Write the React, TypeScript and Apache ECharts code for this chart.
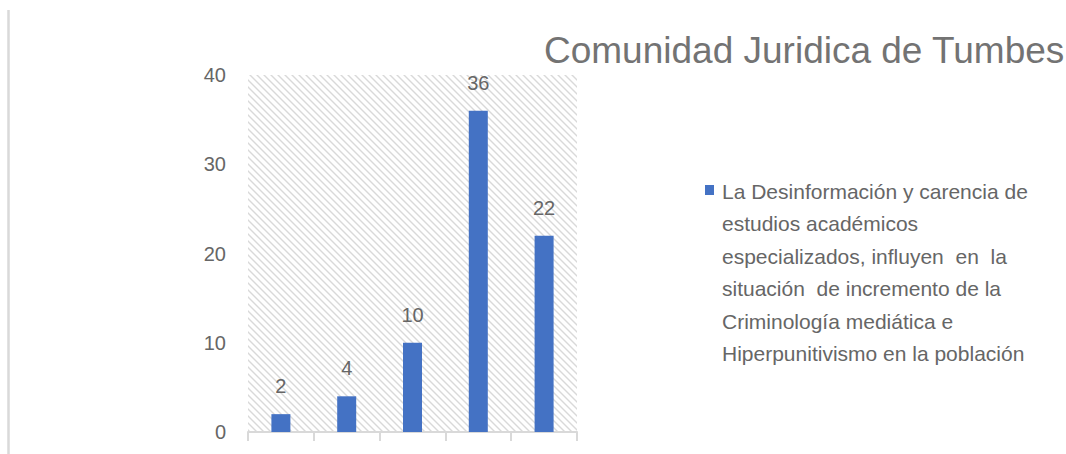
import React, { useEffect, useRef } from "react";
import * as echarts from "echarts";

const TITLE = "Comunidad Juridica de Tumbes";
const CATEGORIES = ["1", "2", "3", "4", "5"];
const VALUES = [2, 4, 10, 36, 22];
const Y_MIN = 0;
const Y_MAX = 40;
const Y_INTERVAL = 10;
const LEGEND_LINES = [
  "La Desinformación y carencia de",
  "estudios académicos",
  "especializados, influyen  en  la",
  "situación  de incremento de la",
  "Criminología mediática e",
  "Hiperpunitivismo en la población",
];
const SERIES_NAME = LEGEND_LINES.join(" ");

const W = 1066;
const H = 454;
const GRID = { left: 248, right: 489, top: 75, bottom: 22 };
const BAR_COLOR = "#4472C4";
const TEXT_COLOR = "#666666";
const FONT = "'Liberation Sans', Arial, sans-serif";
const HATCH = 7;

function makeHatch(): HTMLCanvasElement {
  const P = HATCH;
  const c = document.createElement("canvas");
  c.width = P;
  c.height = P;
  const ctx = c.getContext("2d")!;
  ctx.fillStyle = "#ffffff";
  ctx.fillRect(0, 0, P, P);
  ctx.strokeStyle = "#d9d9d9";
  ctx.lineWidth = 1.4;
  const segs = [
    [-P, -P, 2 * P, 2 * P],
    [0, -P, 2 * P, P],
    [-P, 0, P, 2 * P],
  ];
  for (const [x1, y1, x2, y2] of segs) {
    ctx.beginPath();
    ctx.moveTo(x1, y1);
    ctx.lineTo(x2, y2);
    ctx.stroke();
  }
  return c;
}

export default function App() {
  const ref = useRef<HTMLDivElement>(null);
  useEffect(() => {
    if (!ref.current) return;
    const chart = echarts.init(ref.current, null, { renderer: "svg" });
    const hatch = makeHatch();
    const gridW = W - GRID.left - GRID.right;
    const gridH = H - GRID.top - GRID.bottom;
    chart.setOption({
      animation: false,
      backgroundColor: "#ffffff",
      title: {
        text: TITLE,
        left: 539,
        top: 27,
        textStyle: {
          fontFamily: FONT,
          fontSize: 37,
          fontWeight: "normal",
          color: "#737373",
        },
      },
      grid: { ...GRID, containLabel: false },
      xAxis: {
        type: "category",
        data: CATEGORIES,
        axisLine: { lineStyle: { color: "#d9d9d9", width: 2 } },
        axisTick: { show: true, length: 9, lineStyle: { color: "#d9d9d9", width: 2 } },
        axisLabel: { show: false },
        splitLine: { show: false },
      },
      yAxis: {
        type: "value",
        min: Y_MIN,
        max: Y_MAX,
        interval: Y_INTERVAL,
        axisLine: { show: false },
        axisTick: { show: false },
        splitLine: { show: false },
        axisLabel: {
          margin: 22,
          fontFamily: FONT,
          fontSize: 20,
          color: TEXT_COLOR,
        },
      },
      series: [
        {
          type: "bar",
          name: SERIES_NAME,
          data: VALUES,
          barWidth: 19,
          itemStyle: { color: BAR_COLOR },
          label: {
            show: true,
            position: "top",
            distance: 18,
            fontFamily: FONT,
            fontSize: 20,
            color: TEXT_COLOR,
          },
          z: 3,
        },
      ],
      graphic: [
        {
          type: "rect",
          z: -10,
          silent: true,
          shape: { x: GRID.left, y: GRID.top, width: gridW, height: gridH },
          style: {
            fill: { image: hatch, repeat: "repeat", imageWidth: HATCH, imageHeight: HATCH } as any,
          },
        },
        {
          type: "line",
          silent: true,
          shape: { x1: 8.5, y1: 10, x2: 8.5, y2: H },
          style: { stroke: "#d9d9d9", lineWidth: 2.5 },
        },
        {
          type: "rect",
          silent: true,
          shape: { x: 705, y: 185, width: 9, height: 10 },
          style: { fill: BAR_COLOR },
        },
        {
          type: "text",
          silent: true,
          x: 722,
          y: 175,
          style: {
            text: LEGEND_LINES.join("\n"),
            fontFamily: FONT,
            fontSize: 21,
            lineHeight: 32.5,
            fill: TEXT_COLOR,
            verticalAlign: "top",
          },
        },
      ],
    });
    return () => chart.dispose();
  }, []);
  return (
    <div
      ref={ref}
      style={{ position: "fixed", left: 0, top: 0, width: W, height: H }}
    />
  );
}
